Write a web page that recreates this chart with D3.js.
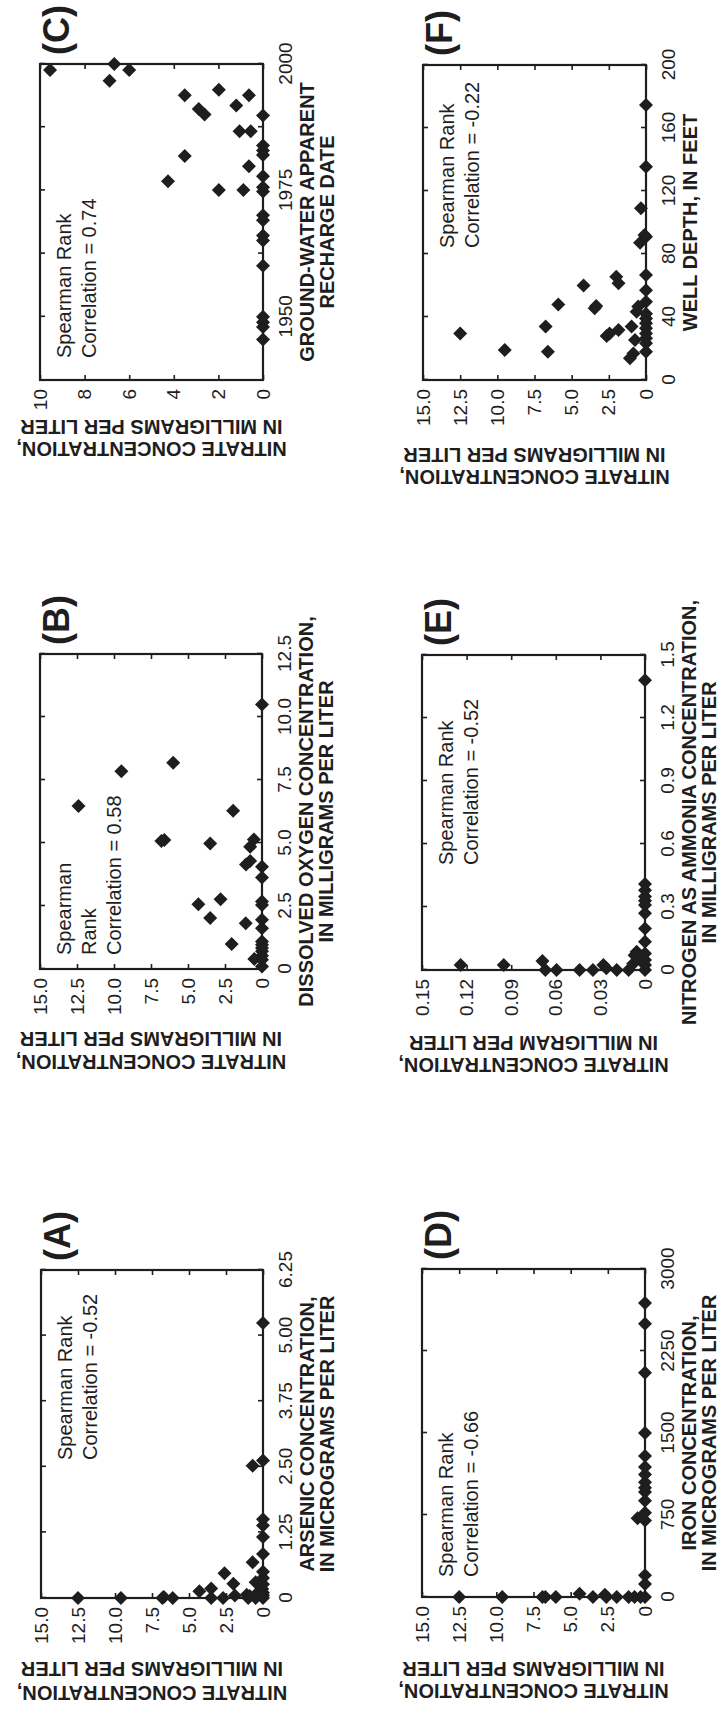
<!DOCTYPE html>
<html><head><meta charset="utf-8">
<script src="https://cdn.jsdelivr.net/npm/d3@7"></script>
<style>body{margin:0;background:#fff}svg{display:block}</style>
</head><body>
<svg id="chart" width="720" height="1717"></svg>
<script>
// ---------- DATA (x value, nitrate value) ----------
const pointsA = [[0,12.5],[0,9.6],[0,6.8],[0.02,6.7],[0,6.1],[0.13,4.3],[0.18,3.5],[0,3.5],[0,2.7],[0.47,2.6],[0.27,2.0],[0.05,1.9],[0.06,1.1],[0,1.0],[0.68,0.7],[0.3,0.5],[0.07,0.4],[2.52,0.7],[2.62,0],[5.24,0],[1.5,0],[1.38,0],[1.16,0],[0.84,0],[0.5,0],[0.38,0],[0.26,0],[0.17,0.05],[0.1,0],[0.05,0],[0,0],[0.04,0.9],[0.12,0.3],[0,0.5]];
const pointsB = [[6.47,12.4],[7.85,9.5],[8.18,6.0],[5.08,6.8],[5.12,6.6],[6.28,1.95],[4.98,3.5],[5.14,0.55],[4.85,0.8],[4.15,1.08],[4.29,0.8],[4.06,0],[3.63,0],[2.57,4.3],[2.77,2.8],[2.02,3.5],[1.82,1.1],[2.68,0],[2.54,0],[1.95,0],[1.62,0],[0.99,2.05],[1.09,0],[0.96,0],[0.83,0],[0.70,0],[0.53,0],[0.40,0.52],[0.37,0],[0.1,0],[10.5,0]];
const pointsC = [[1998.8,9.55],[2000.0,6.67],[1998.8,6.0],[1996.7,6.88],[1993.8,3.51],[1994.9,1.98],[1993.8,0.63],[1991.8,1.2],[1991.1,2.88],[1990.0,2.62],[1989.8,0],[1986.7,1.05],[1986.7,0.55],[1983.9,0],[1982.9,0],[1982.0,0],[1981.8,3.51],[1979.8,0.63],[1976.8,4.26],[1977.8,0],[1975.1,1.98],[1975.1,0.88],[1975.6,0],[1974.8,0],[1970.1,0],[1969.1,0],[1966.1,0],[1965.1,0],[1960.1,0],[1950.0,0],[1948.9,0],[1948.0,0],[1945.5,0]];
const pointsD = [[0,12.5],[0,9.6],[0,6.9],[0,6.7],[0,6.0],[30,4.4],[0,3.5],[20,2.7],[0,2.6],[0,1.9],[0,1.1],[0,0.7],[0,0.3],[0,0],[120,0],[200,0],[720,0.5],[700,0],[770,0],[880,0],[960,0],[1000,0],[1050,0],[1120,0],[1190,0],[1290,0],[1500,0],[2050,0],[2500,0],[2690,0]];
const pointsE = [[0.024,0.124],[0.024,0.095],[0.043,0.069],[0,0.067],[0,0.0595],[0,0.044],[0,0.035],[0.024,0.028],[0.008,0.026],[0,0.019],[0,0.011],[0.03,0.008],[0.07,0.007],[0.087,0.0056],[0.055,0.003],[0,0],[0.024,0],[0.048,0],[0.079,0],[0.135,0],[0.198,0],[0.27,0],[0.31,0],[0.33,0],[0.35,0],[0.38,0],[0.41,0],[1.38,0]];
const pointsF = [[29.6,12.5],[19,9.5],[18,6.6],[34,6.75],[48,5.9],[60,4.2],[45.5,3.45],[47,3.35],[61.4,1.85],[65.6,2.0],[28,2.65],[29.6,2.45],[31.7,1.85],[33.9,0.97],[25.4,0.74],[16.9,0.85],[13.8,1.08],[46.6,0.52],[43.4,0.63],[87.2,0.4],[109,0.34],[174.6,0],[135.4,0],[91,0],[92,0.1],[66.7,0],[57,0],[49.7,0],[42,0],[39,0],[36,0],[32.8,0],[29.6,0],[26.5,0],[23.3,0],[18,0]];

// tick values and labels
const nitrateTicks = [0,2.5,5,7.5,10,12.5,15];
const nitrateLabels = ["0","2.5","5.0","7.5","10.0","12.5","15.0"];
const nitrateTicksC = [0,2,4,6,8,10];
const nitrateLabelsC = ["0","2","4","6","8","10"];
const nitrateTicksE = [0,0.03,0.06,0.09,0.12,0.15];
const nitrateLabelsE = ["0","0.03","0.06","0.09","0.12","0.15"];
const xTicksA = [0,1.25,2.5,3.75,5,6.25];
const xLabelsA = ["0","1.25","2.50","3.75","5.00","6.25"];
const xTicksB = [0,2.5,5,7.5,10,12.5];
const xLabelsB = ["0","2.5","5.0","7.5","10.0","12.5"];
const xTicksC = [1950,1962.5,1975,1987.5,2000];
const xLabelsC = ["1950","","1975","","2000"];
const xTicksD = [0,750,1500,2250,3000];
const xLabelsD = ["0","750","1500","2250","3000"];
const xTicksE = [0,0.3,0.6,0.9,1.2,1.5];
const xLabelsE = ["0","0.3","0.6","0.9","1.2","1.5"];
const xTicksF = [0,40,80,120,160,200];
const xLabelsF = ["0","40","80","120","160","200"];

const yTitle = ["NITRATE CONCENTRATION,","IN MILLIGRAMS PER LITER"];
const yTitleE = ["NITRATE CONCENTRATION,","IN MILLIGRAM PER LITER"];

// ---------- LAYOUT (original landscape figure, rotated onto the page) ----------
const W = 1717;
const FONT = "'Liberation Sans', Arial, Helvetica, sans-serif";
const INK = "#1e1e1e";
const panels = [
  {id:"(A)", pts:pointsA, box:[119,41,447,263], xd:[0,6.25], yd:[0,15], xt:xTicksA, xl:xLabelsA, yt:nitrateTicks, yl:nitrateLabels,
   xTitle:["ARSENIC CONCENTRATION,","IN MICROGRAMS PER LITER"], yTitle:yTitle, ann:["Spearman Rank","Correlation = -0.52"], annX:138, yOff:[88,64]},
  {id:"(B)", pts:pointsB, box:[748,40,1063,262], xd:[0,12.5], yd:[0,15], xt:xTicksB, xl:xLabelsB, yt:nitrateTicks, yl:nitrateLabels,
   xTitle:["DISSOLVED OXYGEN CONCENTRATION,","IN MILLIGRAMS PER LITER"], yTitle:yTitle, ann:["Spearman","Rank","Correlation = 0.58"], annX:14, yOff:[86,63]},
  {id:"(C)", pts:pointsC, box:[1337,40,1653,263], xd:[1937.5,2000], yd:[0,10], xt:xTicksC, xl:xLabelsC, yt:nitrateTicksC, yl:nitrateLabelsC,
   xTitle:["GROUND-WATER APPARENT","RECHARGE DATE"], yTitle:yTitle, ann:["Spearman Rank","Correlation = 0.74"], annX:22, yOff:[62,40]},
  {id:"(D)", pts:pointsD, box:[120,422,448,645], xd:[0,3000], yd:[0,15], xt:xTicksD, xl:xLabelsD, yt:nitrateTicks, yl:nitrateLabels,
   xTitle:["IRON CONCENTRATION,","IN MICROGRAMS PER LITER"], yTitle:yTitle, ann:["Spearman Rank","Correlation = -0.66"], annX:20, yOff:[87,65]},
  {id:"(E)", pts:pointsE, box:[747,422,1062,645], xd:[0,1.5], yd:[0,0.15], xt:xTicksE, xl:xLabelsE, yt:nitrateTicksE, yl:nitrateLabelsE,
   xTitle:["NITROGEN AS AMMONIA CONCENTRATION,","IN MILLIGRAMS PER LITER"], yTitle:yTitleE, ann:["Spearman Rank","Correlation = -0.52"], annX:105, yOff:[88,66]},
  {id:"(F)", pts:pointsF, box:[1337,423,1652,646], xd:[0,200], yd:[0,15], xt:xTicksF, xl:xLabelsF, yt:nitrateTicks, yl:nitrateLabels,
   xTitle:["WELL DEPTH, IN FEET"], yTitle:yTitle, ann:["Spearman Rank","Correlation = -0.22"], annX:132, yOff:[90,68]}
];

const svg = d3.select("#chart");
svg.append("rect").attr("width",720).attr("height",1717).attr("fill","#fff");
const root = svg.append("g").attr("transform",`translate(0,${W}) rotate(-90)`)
  .attr("font-family",FONT).attr("fill",INK);

const diamond = d3.symbol(d3.symbolSquare, 98);

panels.forEach(p => {
  const [x0,y0,x1,y1] = p.box;
  const g = root.append("g");
  const x = d3.scaleLinear().domain(p.xd).range([x0,x1]);
  const y = d3.scaleLinear().domain(p.yd).range([y1,y0]);

  const styleAxis = sel => {
    sel.select(".domain").remove();
    sel.selectAll(".tick line").attr("stroke",INK).attr("stroke-width",1.6);
    sel.selectAll(".tick text").attr("fill",INK).attr("font-size",19).attr("font-family",FONT);
  };
  const xl = d => p.xl[p.xt.indexOf(d)];
  const yl = d => p.yl[p.yt.indexOf(d)];

  g.append("g").attr("transform",`translate(0,${y1})`)
    .call(d3.axisBottom(x).tickValues(p.xt).tickSize(-5).tickPadding(16).tickFormat(xl)).call(styleAxis);
  g.append("g").attr("transform",`translate(0,${y0})`)
    .call(d3.axisTop(x).tickValues(p.xt).tickSize(-5).tickFormat("")).call(styleAxis);
  g.append("g").attr("transform",`translate(${x0},0)`)
    .call(d3.axisLeft(y).tickValues(p.yt).tickSize(-5).tickPadding(9).tickFormat(yl)).call(styleAxis);
  g.append("g").attr("transform",`translate(${x1},0)`)
    .call(d3.axisRight(y).tickValues(p.yt).tickSize(-5).tickFormat("")).call(styleAxis);

  g.append("rect").attr("x",x0).attr("y",y0).attr("width",x1-x0).attr("height",y1-y0)
    .attr("fill","none").attr("stroke",INK).attr("stroke-width",2.2);

  g.append("g").selectAll("path").data(p.pts).join("path")
    .attr("d",diamond)
    .attr("transform",d => `translate(${x(d[0])},${y(d[1])}) rotate(45)`)
    .attr("fill",INK);

  // annotation
  const ann = g.append("text").attr("font-size",20);
  p.ann.forEach((t,i) => ann.append("tspan").attr("x",x0+p.annX).attr("y",y0+31+i*25).text(t));

  // panel letter
  g.append("text").attr("x",x1+9).attr("y",y0+29).attr("font-size",36).attr("font-weight","bold").text(p.id);

  // x-axis title
  const xt = g.append("text").attr("font-size",20).attr("font-weight","bold").attr("text-anchor","middle");
  p.xTitle.forEach((t,i) => xt.append("tspan").attr("x",(x0+x1)/2).attr("y",y1+51+i*20).text(t));

  // y-axis title
  const cy = (y0+y1)/2;
  p.yTitle.forEach((t,i) => g.append("text").attr("font-size",20).attr("font-weight","bold")
    .attr("text-anchor","middle")
    .attr("transform",`translate(${x0-p.yOff[i]},${cy}) rotate(-90)`).text(t));
});
</script>
</body></html>
